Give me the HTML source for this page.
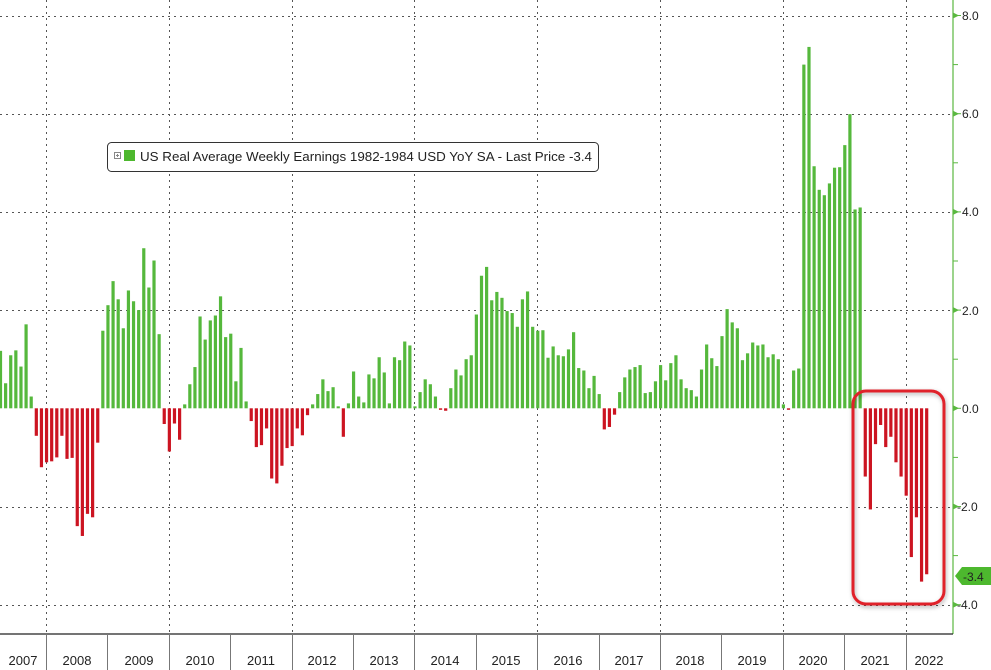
<!DOCTYPE html>
<html><head><meta charset="utf-8"><style>
html,body{margin:0;padding:0;background:#fff;}
svg{display:block;font-family:"Liberation Sans",sans-serif;}
</style></head><body>
<svg id="c" width="991" height="670" viewBox="0 0 991 670" xmlns="http://www.w3.org/2000/svg">
<defs><filter id="sh" x="-10%" y="-10%" width="130%" height="130%"><feDropShadow dx="1" dy="2" stdDeviation="2" flood-color="#000" flood-opacity="0.3"/></filter></defs>
<rect width="991" height="670" fill="#fff"/>
<g id="grid" stroke="#555" stroke-width="1" stroke-dasharray="2,4"></g>
<g id="bars"></g>
<!-- axes -->
<line x1="953" y1="0" x2="953" y2="634" stroke="#5bb840" stroke-width="1.2"/>
<line x1="0" y1="634" x2="953" y2="634" stroke="#222" stroke-width="1.2"/>
<g id="ticks"></g>
<g font-size="12" fill="#222">
<text x="962" y="20">8.0</text>
<text x="962" y="118">6.0</text>
<text x="962" y="216">4.0</text>
<text x="962" y="315">2.0</text>
<text x="962" y="413">0.0</text>
<text x="957" y="511">-2.0</text>
<text x="957" y="609">-4.0</text>
</g>
<polygon points="955,576 962,567 991,567 991,585 962,585" fill="#4db82e"/>
<text x="963" y="581" font-size="12" fill="#222">-3.4</text>
<g font-size="13" fill="#222" text-anchor="middle">
<text x="23" y="665">2007</text><text x="77" y="665">2008</text><text x="139" y="665">2009</text>
<text x="200" y="665">2010</text><text x="261" y="665">2011</text><text x="322" y="665">2012</text>
<text x="384" y="665">2013</text><text x="445" y="665">2014</text><text x="506" y="665">2015</text>
<text x="568" y="665">2016</text><text x="629" y="665">2017</text><text x="690" y="665">2018</text>
<text x="752" y="665">2019</text><text x="813" y="665">2020</text><text x="875" y="665">2021</text>
<text x="929" y="665">2022</text>
</g>
<rect x="853" y="391" width="91" height="213" rx="13" ry="13" fill="none" stroke="#e0202c" stroke-width="3" filter="url(#sh)"/>
<rect x="107.5" y="142.5" width="491" height="29" rx="4" fill="#fff" stroke="#333" stroke-width="1"/>
<rect x="114.5" y="152.5" width="6" height="6" fill="none" stroke="#888" stroke-width="1"/>
<line x1="116" y1="155.5" x2="119" y2="155.5" stroke="#888"/><line x1="117.5" y1="154" x2="117.5" y2="157" stroke="#888"/>
<rect x="124" y="150" width="11" height="11" fill="#4db82e"/>
<text x="140" y="161" font-size="13" fill="#222" textLength="452" lengthAdjust="spacingAndGlyphs">US Real Average Weekly Earnings 1982-1984 USD YoY SA - Last Price -3.4</text>
</svg>
<script>
var d=[1.17,0.51,1.08,1.18,0.85,1.71,0.24,
-0.56,-1.2,-1.1,-1.08,-1.0,-0.56,-1.03,-1.01,-2.4,-2.6,-2.15,-2.22,-0.7,
1.58,2.1,2.59,2.22,1.63,2.4,2.18,2.0,3.26,2.46,3.01,1.51,
-0.32,-0.88,-0.31,-0.64,
0.08,0.49,0.84,1.87,1.4,1.79,1.89,2.28,1.45,1.52,0.55,1.23,0.14,
-0.26,-0.79,-0.75,-0.41,-1.43,-1.53,-1.17,-0.81,-0.77,-0.41,-0.55,-0.14,
0.08,0.29,0.59,0.35,0.43,0.04,-0.58,
0.1,0.75,0.24,0.12,0.69,0.61,1.04,0.73,0.1,1.04,0.98,1.36,1.28,0.04,0.33,0.59,0.49,0.24,
-0.03,-0.05,
0.41,0.79,0.67,1.0,1.08,1.91,2.7,2.88,2.2,2.37,2.25,1.98,1.94,1.66,2.22,2.38,1.66,1.58,1.59,1.03,1.26,1.08,1.06,1.2,1.55,0.82,0.77,0.41,0.66,0.29,
-0.43,-0.38,-0.13,
0.33,0.63,0.79,0.84,0.88,0.31,0.33,0.55,0.88,0.57,0.92,1.08,0.59,0.41,0.37,0.24,0.79,1.3,1.02,0.86,1.47,2.02,1.75,1.63,0.98,1.12,1.34,1.28,1.3,1.04,1.1,1.0,0.08,
-0.03,0.77,0.81,7.0,7.36,4.93,4.45,4.34,4.58,4.9,4.91,5.36,5.99,4.05,4.09,
-1.39,-2.06,-0.73,-0.34,-0.79,-0.58,-1.1,-1.39,-1.78,-3.03,-2.22,-3.53,-3.38];
var NS="http://www.w3.org/2000/svg";
function el(p,t,a){var e=document.createElementNS(NS,t);for(var k in a)e.setAttribute(k,a[k]);p.appendChild(e);return e;}
var Z=408.3,U=49.1;
var g=document.getElementById('grid');
[8,6,4,2,-2,-4].forEach(function(v){var y=Math.round(Z-v*U)+0.5;el(g,'line',{x1:0,y1:y,x2:953,y2:y});});
for(var yr=2008;yr<=2022;yr+=2){var x=Math.round(46+61.4*(yr-2008))+0.5;el(g,'line',{x1:x,y1:0,x2:x,y2:634});}
var b=document.getElementById('bars');
d.forEach(function(v,i){var x=0.5+5.117*i-1.6;var y=v>=0?Z-v*U:Z;var h=Math.abs(v)*U;if(h<1.5)h=1.5;
el(b,'rect',{x:x.toFixed(2),y:(v>=0?Z-h:Z).toFixed(2),width:3.2,height:h.toFixed(2),fill:v>=0?'#55b83c':'#cc1421'});});
var t=document.getElementById('ticks');
for(var yr=2008;yr<=2022;yr++){var x=Math.round(46+61.4*(yr-2008))+0.5;el(t,'line',{x1:x,y1:634,x2:x,y2:670,stroke:'#777','stroke-width':1});}
for(var v=-4;v<=8;v++){var y=Z-v*U;if(v%2==0){el(t,'polygon',{points:(953)+','+(y-3)+' 959,'+y+' 953,'+(y+3),fill:'#5bb840'});el(t,'line',{x1:953,y1:y,x2:961,y2:y,stroke:'#5bb840'});}else{el(t,'line',{x1:953,y1:y,x2:958,y2:y,stroke:'#5bb840'});}}
</script>
</body></html>
